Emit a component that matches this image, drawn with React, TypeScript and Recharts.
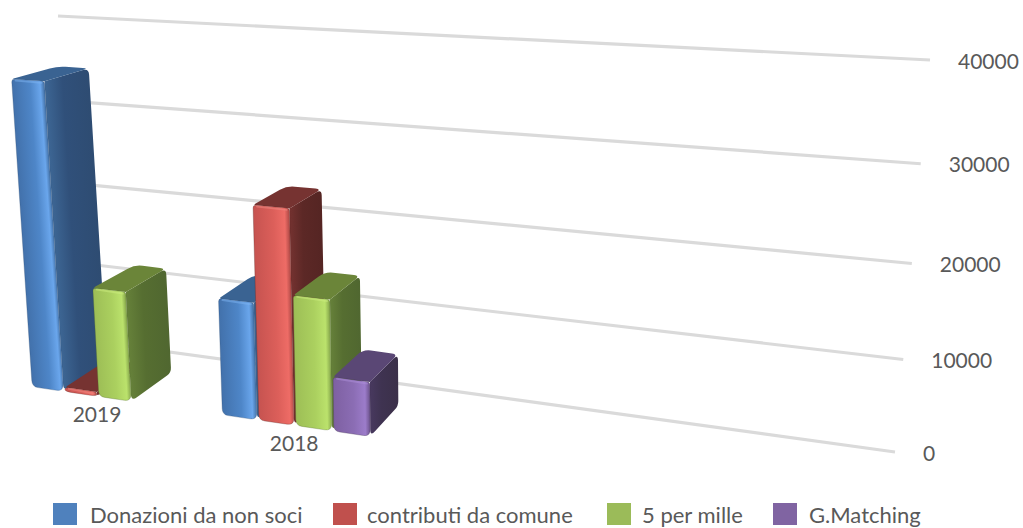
import React from "react";
import { BarChart, Bar, XAxis, YAxis, CartesianGrid, Legend } from "recharts";

const categories = ["2019", "2018", " ", "  "];
const donazioni = [35100, 13100, null, null];
const contributi = [500, 23650, null, null];
const cinquePerMille = [12600, 14400, null, null];
const gMatching = [null, 6000, null, null];
const yTicks = [0, 10000, 20000, 30000, 40000];
const seriesNames = ["Donazioni da non soci", "contributi da comune", "5 per mille", "G.Matching"];

const rows = categories.map((name, i) => ({
  name,
  donazioni: donazioni[i],
  contributi: contributi[i],
  cinque: cinquePerMille[i],
  matching: gMatching[i],
}));

const W = 1023;
const H = 528;
const M = { top: 40, left: 80, right: 20, bottom: 30 };
const Y_W = 60;
const X_H = 30;
const PL = M.left;
const PT = M.top;
const PW = W - M.left - M.right - Y_W;
const PH = H - M.top - M.bottom - X_H;
const FONT = "Lato, Carlito, sans-serif";
const TEXT = "#595959";

type P = { x: number; y: number };
function homography(q: number[][]) {
  const [[x0, y0], [x1, y1], [x2, y2], [x3, y3]] = q;
  const dx1 = x1 - x2, dx2 = x3 - x2, sx = x0 - x1 + x2 - x3;
  const dy1 = y1 - y2, dy2 = y3 - y2, sy = y0 - y1 + y2 - y3;
  const den = dx1 * dy2 - dx2 * dy1;
  const g = (sx * dy2 - dx2 * sy) / den;
  const h = (dx1 * sy - sx * dy1) / den;
  const a = x1 - x0 + g * x1, b = x3 - x0 + h * x3;
  const d = y1 - y0 + g * y1, e = y3 - y0 + h * y3;
  return (s: number, t: number): P => {
    const w = g * s + h * t + 1;
    return { x: (a * s + b * t + x0) / w, y: (d * s + e * t + y0) / w };
  };
}

const wall = homography([[82, 340], [895, 452], [930, 60], [58, 16]]);
const front = homography([[7, 383], [890, 513], [927, 83], [-18, 32]]);
const VP = { x: 930, y: -176 };
const K = 0.05;
const back = (p: P): P => ({ x: p.x + (VP.x - p.x) * K, y: p.y + (VP.y - p.y) * K });
const toS = (x: number) => (x - PL) / PW;
const toT = (y: number) => (PT + PH - y) / PH;

// each corner carries its own rounding radius, so inner junctions stay sharp
function rounded(ps: P[], radii: number[]) {
  const n = ps.length;
  let d = "";
  for (let i = 0; i < n; i++) {
    const p = ps[i], prev = ps[(i + n - 1) % n], next = ps[(i + 1) % n];
    const l1 = Math.hypot(prev.x - p.x, prev.y - p.y) || 1;
    const l2 = Math.hypot(next.x - p.x, next.y - p.y) || 1;
    const r1 = Math.min(radii[i], l1 / 2.2), r2 = Math.min(radii[i], l2 / 2.2);
    const a = { x: p.x + ((prev.x - p.x) * r1) / l1, y: p.y + ((prev.y - p.y) * r1) / l1 };
    const b = { x: p.x + ((next.x - p.x) * r2) / l2, y: p.y + ((next.y - p.y) * r2) / l2 };
    d += `${i === 0 ? "M" : "L"}${a.x.toFixed(1)} ${a.y.toFixed(1)}Q${p.x.toFixed(1)} ${p.y.toFixed(1)} ${b.x.toFixed(1)} ${b.y.toFixed(1)}`;
  }
  return d + "Z";
}

const palette: Record<string, any> = {
  "#4f81bd": {
    front: ["#4271ab", "#4e86c8", "#6aa6ec", "#3f6a9c"],
    side: ["#3d6694", "#30507a", "#2e4c72"],
    top: "#3a6392",
    hi: "#7db4f2",
  },
  "#c0504d": {
    front: ["#c65350", "#dc5f5a", "#ee6c66", "#a84643"],
    side: ["#743230", "#5c2826", "#552523"],
    top: "#763331",
    hi: "#f08a84",
  },
  "#9bbb59": {
    front: ["#9dbe56", "#abd05f", "#bbe26c", "#80a048"],
    side: ["#66813a", "#566e31", "#506730"],
    top: "#6b8539",
    hi: "#cdee80",
  },
  "#8064a2": {
    front: ["#7e60a2", "#8b6db4", "#9c7cca", "#6a5189"],
    side: ["#48395f", "#3f3351", "#3b3049"],
    top: "#5a4775",
    hi: "#ae90da",
  },
};

function stripeVector(a: P, b: P, along: P) {
  const dx = along.x, dy = along.y;
  const len = Math.hypot(dx, dy) || 1;
  const nx = -dy / len, ny = dx / len;
  const proj = (b.x - a.x) * nx + (b.y - a.y) * ny;
  return { x1: a.x, y1: a.y, x2: a.x + nx * proj, y2: a.y + ny * proj };
}

function Bar3D(props: any) {
  const { x, y, width, height, fill, index, dataKey } = props;
  if (height == null || height <= 0) return null;
  const c = palette[fill];
  const s0 = toS(x), s1 = toS(x + width);
  const t1 = toT(y), t0 = toT(y + height);
  const BL = front(s0, t0), BR = front(s1, t0), TR = front(s1, t1), TL = front(s0, t1);
  const TRb = back(TR), TLb = back(TL), BRb = back(BR);
  const id = `${dataKey}-${index}`;
  const fv = stripeVector(TL, TR, { x: BL.x - TL.x, y: BL.y - TL.y });
  const sv = stripeVector(TR, TRb, { x: BR.x - TR.x, y: BR.y - TR.y });
  return (
    <g>
      <defs>
        <linearGradient id={`f-${id}`} gradientUnits="userSpaceOnUse" {...fv}>
          <stop offset="0" stopColor={c.front[0]} />
          <stop offset="0.55" stopColor={c.front[1]} />
          <stop offset="0.86" stopColor={c.front[2]} />
          <stop offset="1" stopColor={c.front[3]} />
        </linearGradient>
        <linearGradient id={`s-${id}`} gradientUnits="userSpaceOnUse" {...sv}>
          <stop offset="0" stopColor={c.side[0]} />
          <stop offset="0.4" stopColor={c.side[1]} />
          <stop offset="1" stopColor={c.side[2]} />
        </linearGradient>
      </defs>
      <path d={rounded([TR, BR, BRb, TRb], [0, 7, 5, 6])} fill={`url(#s-${id})`} />
      <path d={rounded([TL, TR, TRb, TLb], [3, 0, 6, 8])} fill={c.top} />
      <path d={rounded([BL, BR, TR, TL], [6, 7, 3, 3])} fill={`url(#f-${id})`} stroke={c.side[2]} strokeWidth={0.6} strokeOpacity={0.5} />
      <line x1={TL.x + 4} y1={TL.y + 1.5} x2={TR.x - 3} y2={TR.y + 1.5} stroke={c.hi} strokeWidth={2} strokeOpacity={0.5} strokeLinecap="round" />
    </g>
  );
}

function GridLine(props: any) {
  const t = toT(props.y1);
  const a = wall(0, t), b = wall(1, t);
  return <line x1={a.x} y1={a.y} x2={b.x} y2={b.y} stroke="#dadada" strokeWidth={3.2} />;
}

function YTick(props: any) {
  const t = toT(props.y);
  const p = wall(1, t);
  return (
    <text x={p.x + 28} y={p.y} textAnchor="start" dominantBaseline="central" fill={TEXT} fontFamily={FONT} fontSize={21}>
      {props.payload.value}
    </text>
  );
}

function XTick(props: any) {
  const v = String(props.payload.value).trim();
  if (!v) return <g />;
  const p = front(toS(props.x), 0);
  return (
    <text x={p.x - 1.5} y={p.y + 17} textAnchor="middle" dominantBaseline="central" fill={TEXT} fontFamily={FONT} fontSize={21}>
      {v}
    </text>
  );
}

const legendSwatchX = [53, 333, 607, 773];
const legendTextX = [90, 367, 642, 809];

function LegendRow(props: any) {
  const payload = [...(props.payload || [])].sort(
    (a: any, b: any) => seriesNames.indexOf(a.value) - seriesNames.indexOf(b.value),
  );
  return (
    <div style={{ position: "relative", width: W, height: 0 }}>
      {payload.map((e: any, i: number) => (
        <React.Fragment key={e.value}>
          <div style={{ position: "absolute", left: legendSwatchX[i], top: 503, width: 24, height: 22, background: e.color }} />
          <div style={{ position: "absolute", left: legendTextX[i], top: 501, lineHeight: "28px", fontFamily: FONT, fontSize: 22, color: TEXT, whiteSpace: "nowrap" }}>
            {e.value}
          </div>
        </React.Fragment>
      ))}
    </div>
  );
}

export default function App() {
  return (
    <div style={{ position: "absolute", left: 0, top: 0, width: W, height: H, overflow: "hidden", background: "#fff" }}>
      <BarChart width={W} height={H} data={rows} margin={M} barCategoryGap="14%" barGap={2}>
        <CartesianGrid vertical={false} horizontal={GridLine as any} />
        <XAxis dataKey="name" height={X_H} interval={0} axisLine={false} tickLine={false} tick={XTick as any} />
        <YAxis orientation="right" width={Y_W} domain={[0, 40000]} ticks={yTicks} axisLine={false} tickLine={false} tick={YTick as any} />
        <Legend content={LegendRow as any} wrapperStyle={{ left: 0, top: 0, width: W, height: 0 }} verticalAlign="top" />
        <Bar dataKey="donazioni" name={seriesNames[0]} fill="#4f81bd" shape={Bar3D as any} isAnimationActive={false} />
        <Bar dataKey="contributi" name={seriesNames[1]} fill="#c0504d" shape={Bar3D as any} isAnimationActive={false} />
        <Bar dataKey="cinque" name={seriesNames[2]} fill="#9bbb59" shape={Bar3D as any} isAnimationActive={false} />
        <Bar dataKey="matching" name={seriesNames[3]} fill="#8064a2" shape={Bar3D as any} isAnimationActive={false} />
      </BarChart>
    </div>
  );
}
